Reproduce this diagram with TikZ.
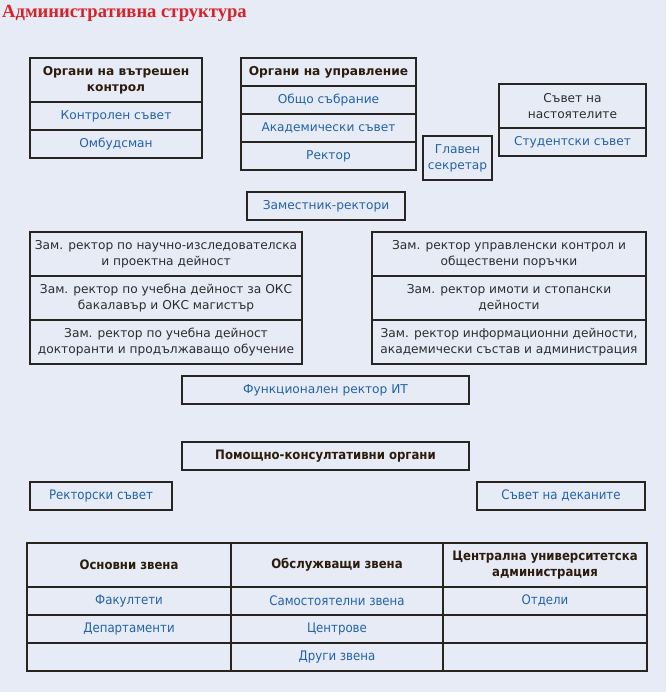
\documentclass[tikz,border=0pt]{standalone}
\usepackage{fontspec}
\setmainfont{DejaVu Sans}
\newfontfamily\condfont{DejaVu Sans Condensed}
\newfontfamily\titlefont{Liberation Serif}
\definecolor{pagebg}{RGB}{231,235,245}
\definecolor{framec}{RGB}{40,36,32}
\definecolor{linkc}{RGB}{34,99,170}
\definecolor{headc}{RGB}{43,28,14}
\definecolor{plainc}{RGB}{45,45,45}
\definecolor{titlec}{RGB}{214,34,40}
\tikzset{
	cell/.style={rectangle,draw=framec,line width=1.4pt,fill=pagebg,align=center,inner sep=0pt,
		font=\fontsize{12.2}{16}\selectfont},
	head/.style={cell,text=headc,font=\fontsize{12.2}{16}\selectfont\bfseries},
	link/.style={cell,text=linkc},
	plain/.style={cell,text=plainc},
	chead/.style={head,font=\condfont\fontsize{13}{16}\selectfont\bfseries},
	clink/.style={cell,text=linkc,font=\condfont\fontsize{13.1}{16}\selectfont},
	cempty/.style={cell},
}
\begin{document}
\begin{tikzpicture}[x=1pt,y=-1pt]
	\fill[pagebg] (0,0) rectangle (666,692);
	\useasboundingbox (0,0) rectangle (666,692);
	\node[anchor=base west,inner sep=0pt,text=titlec,font=\titlefont\fontsize{18.6}{20}\selectfont\bfseries] (title) at (2,18) {Административна структура};
	\begin{scope}\tikzset{every node/.style={minimum width=172pt}}
	\node[head,minimum height=44pt] (ctrl) at (116,80) {Органи на вътрешен\\контрол};
	\node[link,minimum height=28pt] (ctrlcouncil) at (116,116) {Контролен съвет};
	\node[link,minimum height=28pt] (ombud) at (116,144) {Омбудсман};
	\end{scope}
	\begin{scope}\tikzset{every node/.style={minimum width=175pt,minimum height=28pt}}
	\node[head] (gov) at (328.5,72) {Органи на управление};
	\node[link] (assembly) at (328.5,100) {Общо събрание};
	\node[link] (academic) at (328.5,128) {Академически съвет};
	\node[link] (rector) at (328.5,156) {Ректор};
	\end{scope}
	\node[link,minimum width=69pt,minimum height=44pt] (secr) at (457.5,158) {Главен\\секретар};
	\begin{scope}\tikzset{every node/.style={minimum width=147pt}}
	\node[plain,minimum height=44pt] (trustees) at (572.5,106) {Съвет на\\настоятелите};
	\node[link,minimum height=28pt] (students) at (572.5,142) {Студентски съвет};
	\end{scope}
	\node[link,minimum width=158pt,minimum height=28pt] (deputies) at (326,206) {Заместник-ректори};
	\begin{scope}\tikzset{every node/.style={minimum width=272pt,minimum height=44pt}}
	\node[plain] (depsci) at (166,254) {Зам. ректор по научно-изследователска\\и проектна дейност};
	\node[plain] (depedu) at (166,298) {Зам. ректор по учебна дейност за ОКС\\бакалавър и ОКС магистър};
	\node[plain] (depphd) at (166,342) {Зам. ректор по учебна дейност\\докторанти и продължаващо обучение};
	\end{scope}
	\begin{scope}\tikzset{every node/.style={minimum width=274pt,minimum height=44pt}}
	\node[plain] (depctrl) at (509,254) {Зам. ректор управленски контрол и\\обществени поръчки};
	\node[plain] (depprop) at (509,298) {Зам. ректор имоти и стопански\\дейности};
	\node[plain] (depinfo) at (509,342) {Зам. ректор информационни дейности,\\академически състав и администрация};
	\end{scope}
	\node[link,minimum width=287pt,minimum height=28pt] (funcit) at (325.5,390) {Функционален ректор ИТ};
	\node[chead,minimum width=287pt,minimum height=28pt] (advisory) at (325.5,456) {Помощно-консултативни органи};
	\node[clink,minimum width=142pt,minimum height=28pt] (rcouncil) at (101,496) {Ректорски съвет};
	\node[clink,minimum width=168pt,minimum height=28pt] (deans) at (561,496) {Съвет на деканите};
	\begin{scope}
		\tikzset{every node/.style={minimum height=28pt}}
		\node[chead,minimum width=204pt,minimum height=44pt] (basic) at (129,565) {Основни звена};
		\node[chead,minimum width=212pt,minimum height=44pt] (service) at (337,565) {Обслужващи звена};
		\node[chead,minimum width=204pt,minimum height=44pt] (central) at (545,565) {Централна университетска\\администрация};
		\node[clink,minimum width=204pt] (faculties) at (129,601) {Факултети};
		\node[clink,minimum width=212pt] (independent) at (337,601) {Самостоятелни звена};
		\node[clink,minimum width=204pt] (depts) at (545,601) {Отдели};
		\node[clink,minimum width=204pt] (departments) at (129,629) {Департаменти};
		\node[clink,minimum width=212pt] (centres) at (337,629) {Центрове};
		\node[cempty,minimum width=204pt] (empty1) at (545,629) {};
		\node[cempty,minimum width=204pt] (empty2) at (129,657) {};
		\node[clink,minimum width=212pt] (other) at (337,657) {Други звена};
		\node[cempty,minimum width=204pt] (empty3) at (545,657) {};
	\end{scope}
\end{tikzpicture}
\end{document}
